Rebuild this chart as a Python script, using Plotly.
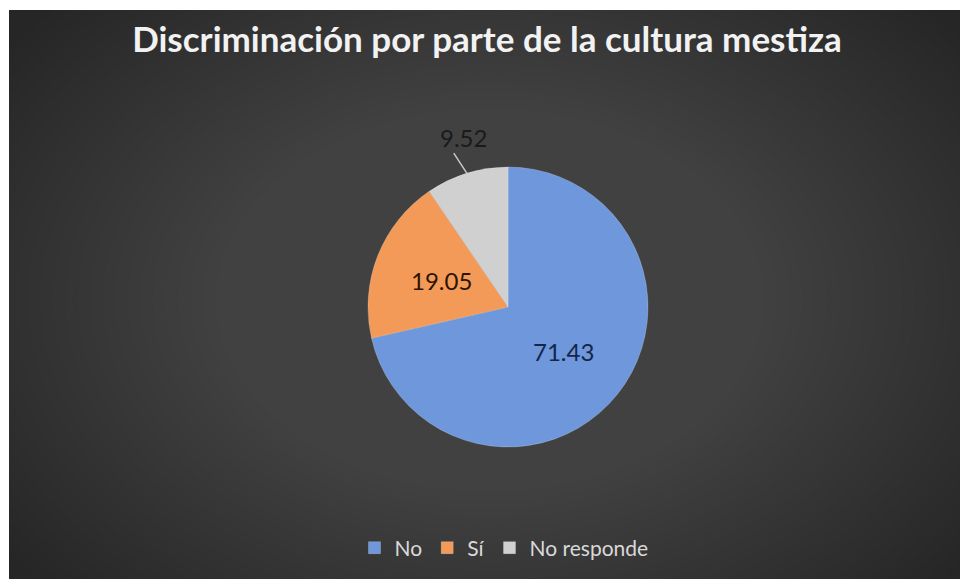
import math
import plotly.graph_objects as go

# Survey responses (percent)
categories = ["No", "Sí", "No responde"]
values = [71.43, 19.05, 9.52]
slice_colors = ["#6e97dc", "#f39a58", "#d0d0d0"]
label_colors = ["#14264a", "#2a1406", "#1a1a1a"]
title_text = "Discriminación por parte de la cultura mestiza"

W, H = 960, 579
cx, cy, R = 508, 307, 140  # pie centre / radius in pixels
FONT = "Lato, Open Sans, sans-serif"


def px(x):
    return x / W


def py(y):
    return (H - y) / H


fig = go.Figure()

fig.add_trace(go.Pie(
    labels=categories,
    values=values,
    sort=False,
    direction="clockwise",
    rotation=0,
    marker=dict(colors=slice_colors, line=dict(color="rgba(255,255,255,0.35)", width=0.6)),
    textinfo="none",
    hoverinfo="label+value",
    domain=dict(x=[px(cx - R), px(cx + R)], y=[py(cy + R), py(cy - R)]),
    showlegend=True,
))

shapes = []
# dark chart area with a soft radial glow
shapes.append(dict(type="rect", xref="paper", yref="paper", x0=0, x1=1, y0=0, y1=1,
                   fillcolor="#262626", line=dict(width=0), layer="below"))
gx, gy = 490, 300
n = 48
for i in range(n):
    f = 1 - i / n
    rx, ry = 600 * f, 420 * f
    shapes.append(dict(type="circle", xref="paper", yref="paper",
                       x0=px(gx - rx), x1=px(gx + rx), y0=py(gy + ry), y1=py(gy - ry),
                       fillcolor="#5a5a5a", opacity=0.03, line=dict(width=0), layer="below"))
# white frame strips on the top and left
shapes.append(dict(type="rect", xref="paper", yref="paper", x0=0, x1=px(9), y0=0, y1=1,
                   fillcolor="white", line=dict(width=0), layer="below"))
shapes.append(dict(type="rect", xref="paper", yref="paper", x0=0, x1=1, y0=py(10), y1=1,
                   fillcolor="white", line=dict(width=0), layer="below"))

# value labels: inside at half radius along each slice's mid angle,
# the last one outside with a leader line
total = sum(values)
annotations = []
acc = 0.0
for i, v in enumerate(values):
    mid = (acc + v / 2) / total * 2 * math.pi
    acc += v
    if i < len(values) - 1:
        tx, ty = cx + 0.51 * R * math.sin(mid), cy - 0.51 * R * math.cos(mid)
    else:
        ex, ey = cx + R * math.sin(mid), cy - R * math.cos(mid)
        lx, ly = ex - 13, ey - 20
        shapes.append(dict(type="line", xref="paper", yref="paper",
                           x0=px(ex), y0=py(ey), x1=px(lx), y1=py(ly),
                           line=dict(color="#c8c8c8", width=1.5), layer="above"))
        tx, ty = lx + 10, ly - 16
    annotations.append(dict(text="%.2f" % v, xref="paper", yref="paper",
                            x=px(tx), y=py(ty), xanchor="center", yanchor="middle",
                            showarrow=False,
                            font=dict(family=FONT, size=24, color=label_colors[i])))

fig.update_layout(
    width=W, height=H,
    margin=dict(l=0, r=0, t=0, b=0),
    paper_bgcolor="white",
    plot_bgcolor="rgba(0,0,0,0)",
    shapes=shapes,
    annotations=annotations,
    title=dict(text="<b>" + title_text + "</b>", x=px(487), xanchor="center",
               y=py(40), yanchor="middle",
               font=dict(family=FONT, size=35, color="#f2f2f2")),
    legend=dict(orientation="h", x=px(504), xanchor="center", y=py(548), yanchor="middle",
                font=dict(family=FONT, size=21, color="#d9d9d9"),
                bgcolor="rgba(0,0,0,0)", itemwidth=30, traceorder="normal"),
)

fig.write_html("out.html")
